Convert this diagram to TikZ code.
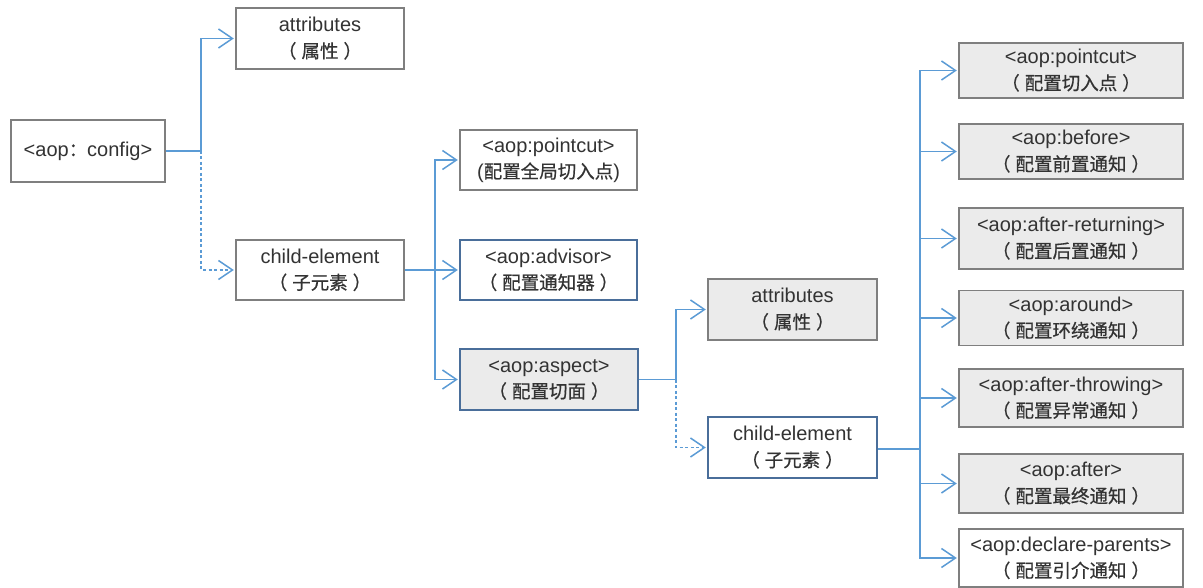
\documentclass[tikz,border=0pt]{standalone}
\usepackage{fontspec}
\setmainfont{Liberation Sans}
\newfontfamily\cjk[FakeBold=0.6]{Noto Sans CJK SC}
\usetikzlibrary{arrows.meta}
\definecolor{linkblue}{HTML}{5B9BD5}
\definecolor{boxgray}{HTML}{7F7F7F}
\definecolor{boxblue}{HTML}{4A6E9A}
\definecolor{fillgray}{HTML}{EBEBEB}
\definecolor{textgray}{HTML}{333333}
\newcommand{\zh}[1]{{\cjk\fontsize{18.5}{26}\selectfont #1}}
\newcommand{\zhp}[1]{\zh{（\hspace{5pt}#1\hspace{5pt}）}}

\tikzset{
  box/.style={draw=boxgray, line width=1.4pt, fill=white, text=textgray, align=center,
    font=\fontsize{20}{26}\selectfont, inner sep=0pt},
  bluebox/.style={box, draw=boxblue},
  greybox/.style={box, fill=fillgray},
  link/.style={draw=linkblue, line width=1.4pt, shorten >=1.5pt,
    -{Straight Barb[length=14pt,width=19pt,line width=1.5pt]}},
  dashlink/.style={link, dash pattern=on 3pt off 2.5pt},
  trunk/.style={draw=linkblue, line width=2.2pt},
}

\begin{document}
\begin{tikzpicture}[x=1pt,y=-1pt]
  \useasboundingbox (0,0) rectangle (1203,588);

  \node[box, minimum width=154pt, minimum height=62pt] (config) at (88,151) {<aop\zh{：}config>};
  \node[box, minimum width=168pt, minimum height=61pt] (attrA) at (320,38.5) {attributes\\\zhp{属性}};
  \node[box, minimum width=168pt, minimum height=60pt] (childA) at (320,270) {child-element\\\zhp{子元素}};

  \node[box, minimum width=177pt, minimum height=60pt] (pointcutA) at (548.5,160) {<aop:pointcut>\\(\zh{配置全局切入点})};
  \node[bluebox, minimum width=177pt, minimum height=60pt] (advisor) at (548.5,270) {<aop:advisor>\\\zhp{配置通知器}};
  \node[bluebox, fill=fillgray, minimum width=178pt, minimum height=61pt] (aspect) at (549,379.5) {<aop:aspect>\\\zhp{配置切面}};

  \node[greybox, minimum width=169pt, minimum height=61pt] (attrB) at (792.5,309.5) {attributes\\\zhp{属性}};
  \node[bluebox, minimum width=169pt, minimum height=61pt] (childB) at (792.5,447.5) {child-element\\\zhp{子元素}};

  \node[greybox, minimum width=224pt, minimum height=55pt] (pointcutB) at (1071,70.5) {<aop:pointcut>\\\zhp{配置切入点}};
  \node[greybox, minimum width=224pt, minimum height=55pt] (before) at (1071,151.5) {<aop:before>\\\zhp{配置前置通知}};
  \node[greybox, minimum width=224pt, minimum height=61pt] (afterret) at (1071,238.5) {<aop:after-returning>\\\zhp{配置后置通知}};
  \node[greybox, minimum width=224pt, minimum height=55pt] (around) at (1071,318) {<aop:around>\\\zhp{配置环绕通知}};
  \node[greybox, minimum width=224pt, minimum height=58pt] (afterthr) at (1071,398) {<aop:after-throwing>\\\zhp{配置异常通知}};
  \node[greybox, minimum width=224pt, minimum height=59pt] (after) at (1071,483.5) {<aop:after>\\\zhp{配置最终通知}};
  \node[box, minimum width=224pt, minimum height=58pt] (declare) at (1071,558) {<aop:declare-parents>\\\zhp{配置引介通知}};

  \coordinate (jA) at (201,151);
  \draw[draw=linkblue, line width=1.4pt] (config.east) -- (jA);
  \draw[link] (jA) |- (attrA.west);
  \draw[dashlink] (jA) |- (childA.west);

  \coordinate (jB) at (435,270);
  \draw[trunk] (childA.east) -- (jB);
  \draw[link] (jB) |- (pointcutA.west);
  \draw[link] (jB) -- (advisor.west);
  \draw[link] (jB) |- (aspect.west);

  \coordinate (jC) at (676,379.5);
  \draw[draw=linkblue, line width=1.4pt] (aspect.east) -- (jC);
  \draw[link] (jC) |- (attrB.west);
  \draw[dashlink] (jC) |- (childB.west);

  \coordinate (jD) at (920,449);
  \draw[trunk] (childB.east |- jD) -- (jD);
  \draw[link] (jD) |- (pointcutB.west);
  \draw[link] (jD) |- (before.west);
  \draw[link] (jD) |- (afterret.west);
  \draw[link] (jD) |- (around.west);
  \draw[link] (jD) |- (afterthr.west);
  \draw[link] (jD) |- (after.west);
  \draw[link] (jD) |- (declare.west);
\end{tikzpicture}
\end{document}
